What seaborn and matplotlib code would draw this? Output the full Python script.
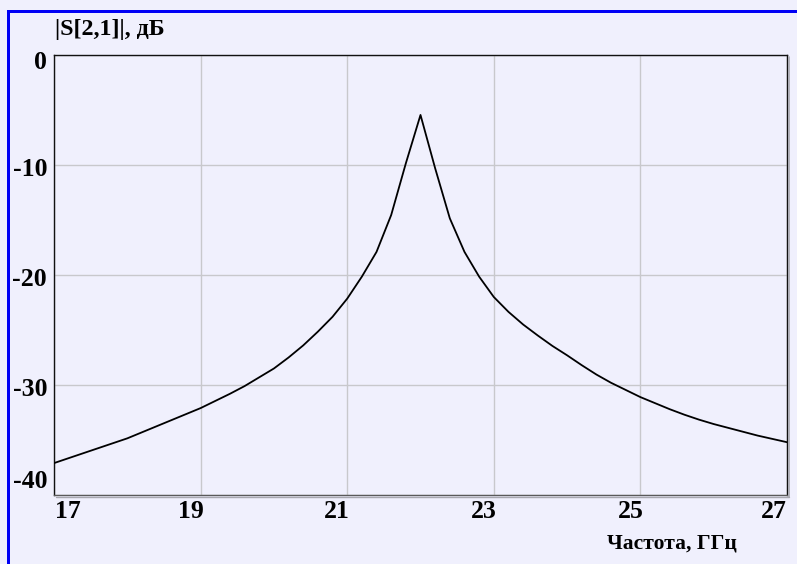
import matplotlib
matplotlib.use("Agg")
import matplotlib.pyplot as plt
from matplotlib.patches import Rectangle
from matplotlib.lines import Line2D
from matplotlib.transforms import ScaledTranslation
import pandas as pd
import seaborn as sns

# Transmission coefficient |S21| of the filter, dB vs frequency, GHz
freq_ghz = [17.0, 17.2, 17.4, 17.6, 17.8, 18.0, 18.2, 18.4, 18.6, 18.8,
            19.0, 19.2, 19.4, 19.6, 19.8, 20.0, 20.2, 20.4, 20.6, 20.8,
            21.0, 21.2, 21.4, 21.6, 21.8, 22.0, 22.2, 22.4, 22.6, 22.8,
            23.0, 23.2, 23.4, 23.6, 23.8, 24.0, 24.2, 24.4, 24.6, 24.8,
            25.0, 25.2, 25.4, 25.6, 25.8, 26.0, 26.2, 26.4, 26.6, 26.8, 27.0]
s21_db = [-37.1, -36.65, -36.2, -35.75, -35.3, -34.85, -34.3, -33.75, -33.2, -32.65,
          -32.1, -31.45, -30.8, -30.1, -29.3, -28.5, -27.5, -26.4, -25.15, -23.8,
          -22.15, -20.15, -17.9, -14.55, -9.85, -5.45, -10.3, -14.85, -17.9, -20.15,
          -22.0, -23.35, -24.5, -25.5, -26.45, -27.3, -28.2, -29.05, -29.8, -30.45,
          -31.1, -31.65, -32.2, -32.7, -33.15, -33.55, -33.9, -34.25, -34.6, -34.9, -35.2]

x_ticks = [17, 19, 21, 23, 25, 27]
y_ticks = [0, -10, -20, -30, -40]
y_label_text = "|S[2,1]|, дБ"
x_label_text = "Частота, ГГц"

sns.set_theme(style="white")
plt.rcParams["font.family"] = ["Liberation Serif", "DejaVu Serif"]
plt.rcParams["font.weight"] = "bold"

BG = "#F0F0FD"
W, H = 797, 564
fig = plt.figure(figsize=(W / 100, H / 100), dpi=100, facecolor=BG)
ax = fig.add_axes([54 / W, 1 - 495 / H, (787 - 54) / W, (495 - 55) / H])
ax.set_facecolor(BG)

df = pd.DataFrame({"f": freq_ghz, "s21": s21_db})
sns.lineplot(data=df, x="f", y="s21", ax=ax, color="black", linewidth=1.3,
             estimator=None, sort=False, zorder=3)

ax.set_xlim(17, 27)
ax.set_ylim(-40, 0)
ax.set_xticks(x_ticks)
ax.set_yticks(y_ticks)
ax.set_xticklabels([str(t) for t in x_ticks])
ax.set_yticklabels([str(t) for t in y_ticks])
ax.set_xlabel("")
ax.set_ylabel("")
ax.grid(True, color="#C8C8CC", linewidth=1.0, zorder=0)
ax.tick_params(length=0, labelsize=18.5, pad=0, labelcolor="black")

for s in ax.spines.values():
    s.set_color("#111111")
    s.set_linewidth(1.0)
ax.spines["bottom"].set_color("#5A5A5A")

# tick label placement
dpi_tr = fig.dpi_scale_trans
xl = ax.get_xticklabels()
for i, lab in enumerate(xl):
    lab.set_fontweight("bold")
    if i == 0:
        lab.set_ha("left")
        dx = 1
    elif i == len(xl) - 1:
        lab.set_ha("right")
        dx = 0
    else:
        lab.set_ha("right")
        dx = 3
    lab.set_transform(lab.get_transform() + ScaledTranslation(dx / 100, -5 / 100, dpi_tr))

yl = ax.get_yticklabels()
y_off = {0: -5, -10: -2, -20: -2, -30: -2, -40: 16}
for t, lab in zip(y_ticks, yl):
    lab.set_fontweight("bold")
    lab.set_transform(lab.get_transform() + ScaledTranslation(-7 / 100, y_off[t] / 100, dpi_tr))

# axis captions
fig.text(55 / W, 1 - 29 / H, y_label_text, ha="left", va="center",
         fontsize=17.3, fontweight="bold", color="black")
fig.text(672 / W, 1 - 543 / H, x_label_text, ha="center", va="center",
         fontsize=15.5, fontweight="bold", color="black")

# frame shadow on right and bottom
fig.add_artist(Line2D([788.5 / W, 788.5 / W], [1 - 497 / H, 1 - 57 / H],
                      transform=fig.transFigure, color="#A8A8B0", linewidth=1.2))
fig.add_artist(Line2D([56 / W, 788.5 / W], [1 - 496.5 / H, 1 - 496.5 / H],
                      transform=fig.transFigure, color="#A8A8B0", linewidth=1.0))

# blue window border (left and top)
fig.add_artist(Rectangle((7 / W, 0), 3 / W, 1 - 10 / H, transform=fig.transFigure,
                         facecolor="#0000F5", edgecolor="none"))
fig.add_artist(Rectangle((7 / W, 1 - 13 / H), 1 - 7 / W, 3 / H, transform=fig.transFigure,
                         facecolor="#0000F5", edgecolor="none"))

fig.savefig("out.png", dpi=100, facecolor=BG)
